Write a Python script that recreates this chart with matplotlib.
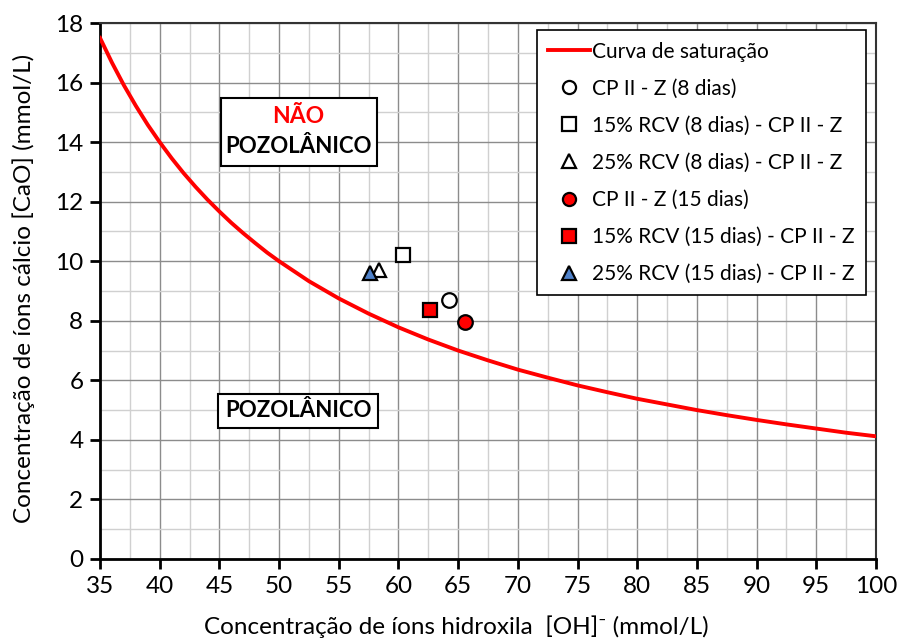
import matplotlib
matplotlib.use("Agg")
from matplotlib import pyplot as plt
from matplotlib.ticker import MultipleLocator

plt.rcParams['font.family'] = ['Lato', 'DejaVu Sans']

# saturation curve (hydroxyl ions vs calcium ions)
curve_oh = [35, 36, 37, 38, 39, 40, 41, 42, 43, 44, 45, 46, 47, 48, 49, 50, 52.5, 55, 57.5,
            60, 62.5, 65, 67.5, 70, 72.5, 75, 77.5, 80, 82.5, 85, 87.5, 90, 92.5, 95, 97.5, 100]
curve_cao = [17.5, 16.67, 15.91, 15.22, 14.58, 14.0, 13.46, 12.96, 12.5, 12.07, 11.67, 11.29,
             10.94, 10.61, 10.29, 10.0, 9.33, 8.75, 8.24, 7.78, 7.37, 7.0, 6.67, 6.36, 6.09,
             5.83, 5.6, 5.38, 5.19, 5.0, 4.83, 4.67, 4.52, 4.38, 4.24, 4.12]

# measured samples
sample_labels = ["CP II - Z (8 dias)", "15% RCV (8 dias) - CP II - Z", "25% RCV (8 dias) - CP II - Z",
                 "CP II - Z (15 dias)", "15% RCV (15 dias) - CP II - Z", "25% RCV (15 dias) - CP II - Z"]
sample_oh = [64.2, 60.4, 58.4, 65.6, 62.6, 57.6]
sample_cao = [8.7, 10.2, 9.7, 7.95, 8.35, 9.6]
sample_markers = ['o', 's', '^', 'o', 's', '^']
sample_colors = ['white', 'white', 'white', '#ff0000', '#ff0000', '#4f81c9']

fig, ax = plt.subplots(figsize=(8.98, 6.41), dpi=100)
fig.subplots_adjust(left=0.1114, right=0.9755, top=0.964, bottom=0.128)

ax.plot(curve_oh, curve_cao, color='#ff0000', linewidth=2.8, label="Curva de saturação", zorder=3)

for x, y, m, c, lab in zip(sample_oh, sample_cao, sample_markers, sample_colors, sample_labels):
    ax.plot(x, y, linestyle='none', marker=m, markersize=10.5, markerfacecolor=c,
            markeredgecolor='black', markeredgewidth=1.6, label=lab, zorder=4)

ax.set_xlim(35, 100)
ax.set_ylim(0, 18)
ax.xaxis.set_major_locator(MultipleLocator(5))
ax.xaxis.set_minor_locator(MultipleLocator(2.5))
ax.yaxis.set_major_locator(MultipleLocator(2))
ax.yaxis.set_minor_locator(MultipleLocator(1))
ax.grid(which='major', color='#8c8c8c', linewidth=1.0)
ax.grid(which='minor', color='#d0d0d0', linewidth=1.0)
ax.set_axisbelow(True)

ax.tick_params(which='major', direction='out', length=7, width=2, labelsize=17.5, pad=5)
ax.tick_params(which='minor', length=0)
for side in ['left', 'bottom']:
    ax.spines[side].set_linewidth(2)
for side in ['top', 'right']:
    ax.spines[side].set_linewidth(1.5)
    ax.spines[side].set_color('#333333')

ax.set_xlabel("Concentração de íons hidroxila  [OH]⁻ (mmol/L)", fontsize=17.5)
ax.set_ylabel("Concentração de íons cálcio [CaO] (mmol/L)", fontsize=17.5)
ax.xaxis.set_label_coords(0.459, -0.106)
ax.yaxis.set_label_coords(-0.084, 0.505)

# region labels
ax.add_patch(plt.Rectangle((45.1, 13.2), 13.1, 2.3, facecolor='white', edgecolor='black',
                           linewidth=1.5, zorder=2.5))
ax.text(51.6, 14.85, "NÃO", color='#ff0000', fontsize=16.5, fontweight='bold',
        ha='center', va='center', zorder=3)
ax.text(51.6, 13.85, "POZOLÂNICO", color='black', fontsize=16, fontweight='bold',
        ha='center', va='center', zorder=3)
ax.text(51.6, 4.97, "POZOLÂNICO", color='black', fontsize=16, fontweight='bold', ha='center', va='center',
        bbox=dict(boxstyle='square,pad=0.3', facecolor='white', edgecolor='black', linewidth=1.5))

leg = ax.legend(loc='upper right', bbox_to_anchor=(0.987, 0.987), fontsize=15, frameon=True, fancybox=False,
                edgecolor='black', framealpha=1, handlelength=2.0, handletextpad=0.1, labelspacing=0.82,
                borderpad=0.55, borderaxespad=0, markerscale=0.9)
leg.get_frame().set_linewidth(1.2)

plt.savefig("out.png")
